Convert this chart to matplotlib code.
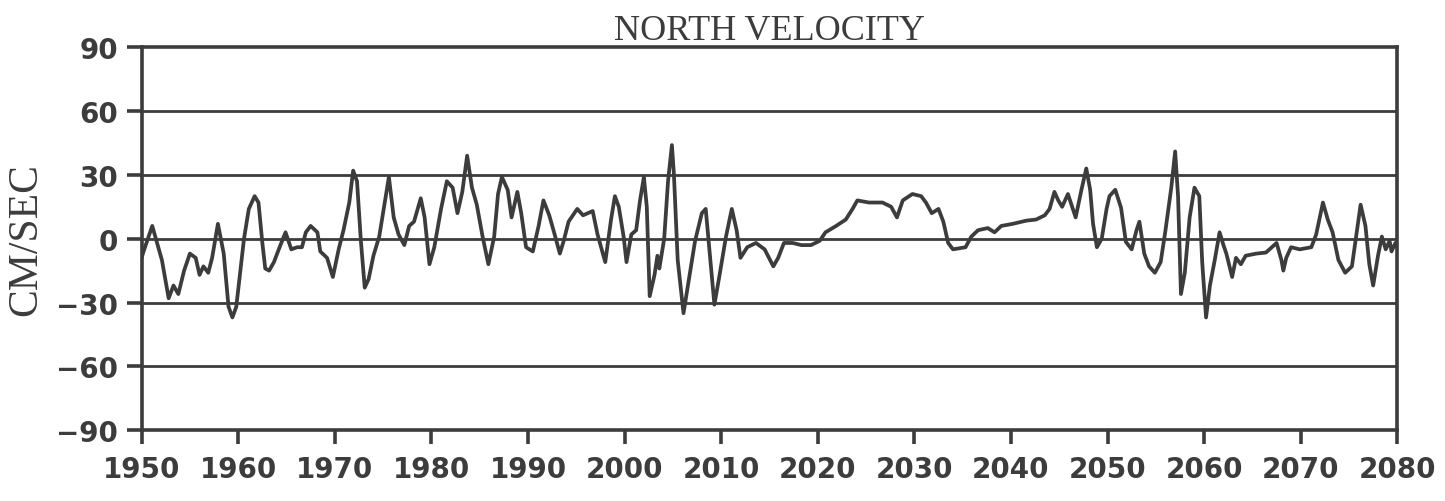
import numpy as np
import matplotlib
matplotlib.use("Agg")
import matplotlib.pyplot as plt

# values (north velocity, cm/sec)
years = [1950.0, 1950.2, 1951.1, 1952.1, 1952.8, 1953.3, 1953.8, 1954.4, 1955.0, 1955.6,
         1956.0, 1956.4, 1956.9, 1957.3, 1957.9, 1958.5, 1959.0, 1959.4, 1959.8, 1960.6,
         1961.1, 1961.7, 1962.1, 1962.5, 1962.8, 1963.2, 1963.7, 1964.2, 1964.9, 1965.5,
         1966.1, 1966.6, 1967.0, 1967.5, 1968.2, 1968.5, 1969.2, 1969.8, 1970.4, 1970.9,
         1971.5, 1971.9, 1972.3, 1972.7, 1973.1, 1973.5, 1974.0, 1974.6, 1975.1, 1975.6,
         1976.1, 1976.6, 1977.2, 1977.7, 1978.2, 1978.9, 1979.3, 1979.8, 1980.3, 1981.0,
         1981.6, 1982.2, 1982.7, 1983.2, 1983.7, 1984.2, 1984.7, 1985.3, 1985.9, 1986.5,
         1986.9, 1987.3, 1987.9, 1988.3, 1988.9, 1989.3, 1989.8, 1990.5, 1991.1, 1991.6,
         1992.2, 1992.7, 1993.3, 1993.7, 1994.2, 1995.1, 1995.7, 1996.7, 1997.2, 1998.0,
         1998.6, 1999.0, 1999.4, 1999.9, 2000.2, 2000.7, 2001.2, 2001.6, 2002.0, 2002.3,
         2002.6, 2003.1, 2003.4, 2003.6, 2004.1, 2004.5, 2004.9, 2005.1, 2005.5, 2006.1,
         2006.7, 2007.3, 2008.0, 2008.4, 2008.7, 2009.3, 2009.8, 2010.5, 2011.1, 2011.6,
         2012.0, 2012.7, 2013.6, 2014.5, 2015.4, 2015.9, 2016.5, 2017.4, 2018.3, 2019.3,
         2020.2, 2020.8, 2021.9, 2022.9, 2023.6, 2024.1, 2025.3, 2026.7, 2027.6, 2028.2,
         2028.8, 2029.8, 2030.7, 2031.2, 2031.8, 2032.5, 2033.0, 2033.5, 2034.0, 2035.3,
         2035.9, 2036.6, 2037.6, 2038.3, 2039.0, 2040.2, 2041.6, 2042.6, 2043.5, 2044.0,
         2044.5, 2044.9, 2045.3, 2045.9, 2046.7, 2047.3, 2047.8, 2048.2, 2048.5, 2048.9,
         2049.4, 2049.9, 2050.2, 2050.8, 2051.4, 2051.9, 2052.5, 2053.0, 2053.3, 2053.8,
         2054.3, 2054.9, 2055.5, 2056.0, 2056.6, 2057.0, 2057.3, 2057.6, 2058.0, 2058.5,
         2059.0, 2059.5, 2059.8, 2060.2, 2060.6, 2061.1, 2061.6, 2062.0, 2062.3, 2062.9,
         2063.3, 2063.8, 2064.3, 2065.4, 2066.4, 2067.5, 2068.0, 2068.2, 2068.5, 2069.0,
         2069.9, 2071.1, 2071.6, 2072.3, 2072.8, 2073.3, 2073.9, 2074.6, 2075.3, 2075.8,
         2076.2, 2076.7, 2077.1, 2077.5, 2078.0, 2078.4, 2078.8, 2079.2, 2079.4, 2079.8,
         2080.0]
north_vel = [-9, -6, 6, -10, -28, -22, -26, -15, -7, -9,
             -17, -13, -16, -9, 7, -7, -32, -37, -32, 0,
             14, 20, 17, -2, -14, -15, -11, -5, 3, -5,
             -4, -4, 3, 6, 3, -6, -9, -18, -5, 4,
             17, 32, 27, -1, -23, -19, -8, 1, 15, 29,
             10, 2, -3, 6, 8, 19, 10, -12, -4, 14,
             27, 24, 12, 22, 39, 24, 16, 1, -12, 1,
             21, 29, 23, 10, 22, 12, -4, -6, 6, 18,
             11, 3, -7, -1, 8, 14, 11, 13, 2, -11,
             9, 20, 15, 1, -11, 2, 4, 18, 29, 15,
             -27, -17, -8, -14, 0, 27, 44, 31, -10, -35,
             -18, -1, 12, 14, -1, -31, -18, 1, 14, 4,
             -9, -4, -2, -5, -13, -9, -2, -2, -3, -3,
             -1, 3, 6, 9, 14, 18, 17, 17, 15, 10,
             18, 21, 20, 17, 12, 14, 8, -2, -5, -4,
             1, 4, 5, 3, 6, 7, 8.5, 9, 11, 14,
             22, 18, 15, 21, 10, 23, 33, 23, 7, -4,
             0, 14, 20, 23, 14.5, -1.5, -5, 4, 8, -7,
             -13, -16, -11, 4, 24, 41, 20, -26, -16, 10,
             24, 20, -11, -37, -22, -10, 3, -3, -7, -18,
             -9, -12, -8, -7, -6.5, -2, -10, -15, -9, -4,
             -5, -4, 2, 17, 9, 3, -10, -16, -13, 3,
             16, 6, -12, -22, -8, 1, -5, -1, -6, -2,
             -4]

yticks = [-90, -60, -30, 0, 30, 60, 90]
xticks = list(range(1950, 2081, 10))

ink = '#3c3c3c'

fig = plt.figure(figsize=(14.45, 5.02), dpi=100)
ax = fig.add_axes([0.098, 0.141, 0.869, 0.763])

ax.plot(years, north_vel, color=ink, lw=2.7, solid_joinstyle='round')

for v in yticks[1:-1]:
    ax.axhline(v, color=ink, lw=2.0, zorder=0)

ax.set_xlim(1950, 2080)
ax.set_ylim(-90, 90)
ax.set_xticks(xticks)
ax.set_yticks(yticks)
ax.set_yticklabels([str(v).replace('-', '\u2212') for v in yticks])

for s in ax.spines.values():
    s.set_linewidth(2.6)
    s.set_color(ink)

ax.tick_params(axis='both', colors=ink, width=2.6, direction='out', labelsize=20)
ax.tick_params(axis='y', length=11, pad=6)
ax.tick_params(axis='x', length=10, pad=8)
for lab in ax.get_xticklabels() + ax.get_yticklabels():
    lab.set_fontweight('bold')

ax.set_ylabel('CM/SEC', fontsize=30, family='Liberation Serif', color=ink, labelpad=8)
ax.set_title('NORTH VELOCITY', fontsize=26, family='Liberation Serif', color=ink, pad=3)

fig.savefig('out.png', dpi=100, facecolor='white')
